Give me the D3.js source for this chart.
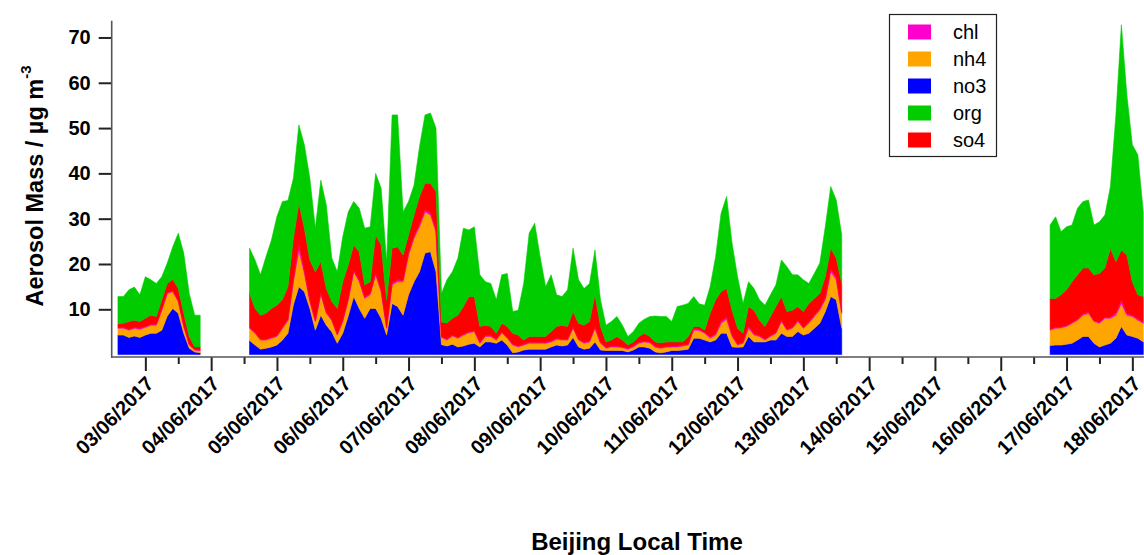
<!DOCTYPE html>
<html>
<head>
<meta charset="utf-8">
<script src="https://cdn.jsdelivr.net/npm/d3@7"></script>
<style>
  body { margin: 0; background: #ffffff; }
  svg { display: block; }
  text { font-family: Arial, "Liberation Sans", sans-serif; fill: #000; }
</style>
</head>
<body>
<svg id="chart" width="1144" height="555"></svg>
<script>
// Aerosol composition time series, 2-hourly samples starting 02/06/2017 12:00.
// null marks hours with no measurement.
const startTime = new Date(2017, 5, 2, 12, 0);
const stepHours = 2;

const no3 = [null,
  4.3, 4.3, 3.8, 4.1, 3.8, 4.3, 4.7, 4.7, 5.4, 8.5, 10.2, 9.1, 4.7, 1.4, 0.6, 0.4,
  null, null, null, null, null, null, null, null,
  3.1, 2.1, 1.2, 1.4, 1.7, 2.1, 3.2, 4.7, 11.0, 15.0,
  13.9, 10.2, 5.4, 8.7, 6.5, 5.0, 2.5, 4.7, 8.5, 12.8,
  10.2, 8.0, 10.2, 10.2, 8.0, 4.3, 11.3, 10.6, 8.7, 13.2,
  16.1, 18.3, 22.4, 22.7, 18.3, 2.2, 1.9, 2.3, 1.7, 1.9,
  2.3, 2.5, 1.7, 2.8, 2.8, 2.5, 3.2, 2.1, 0.4, 0.6,
  1.0, 1.2, 1.2, 1.2, 1.2, 1.7, 2.1, 1.9, 2.1, 3.8,
  1.7, 1.2, 1.4, 2.8, 1.0, 0.9, 0.9, 0.9, 0.9, 0.6,
  1.0, 1.7, 1.7, 1.4, 0.6, 0.4, 0.6, 0.9, 0.9, 1.0,
  1.2, 3.6, 3.6, 3.2, 2.8, 3.2, 4.7, 4.7, 1.7, 1.6,
  1.7, 4.0, 2.8, 2.8, 2.8, 3.2, 3.2, 4.7, 4.0, 4.0,
  5.1, 4.3, 4.7, 5.8, 6.9, 9.5, 12.8, 12.1, 5.8,
  null, null, null, null, null, null, null, null, null, null,
  null, null, null, null, null, null, null, null, null, null,
  null, null, null, null, null, null, null, null, null, null,
  null, null, null, null, null, null, null,
  2.0, 2.1, 2.1, 2.3, 2.5, 3.2, 4.0, 4.0, 2.5, 1.7, 2.1, 2.5, 3.6, 6.2, 4.3, 4.0, 3.6, 2.8
];

const nh4 = [null,
  1.5, 1.5, 1.6, 1.7, 1.8, 1.7, 1.8, 1.8, 4.4, 5.0, 3.7, 2.6, 1.5, 0.7, 0.4, 0.5,
  null, null, null, null, null, null, null, null,
  2.7, 2.6, 2.0, 1.8, 1.9, 1.9, 2.6, 2.8, 5.1, 7.9,
  4.0, 1.5, 1.9, 4.5, 2.6, 2.5, 1.8, 2.6, 3.5, 5.5,
  5.9, 4.4, 3.0, 7.4, 5.9, 1.5, 4.1, 5.5, 7.4, 8.8,
  9.6, 9.9, 9.1, 8.1, 8.8, 1.6, 1.3, 1.8, 1.9, 2.4,
  2.5, 2.6, 0.8, 1.2, 1.2, 0.7, 1.6, 1.5, 1.7, 1.1,
  1.1, 1.3, 1.3, 1.3, 1.3, 1.1, 1.3, 1.3, 1.1, 2.0,
  1.5, 1.3, 1.4, 3.0, 1.5, 0.5, 0.8, 0.8, 0.6, 0.6,
  0.7, 0.8, 1.1, 1.2, 1.0, 1.0, 1.0, 0.8, 0.8, 0.9,
  0.9, 1.8, 1.7, 1.5, 0.8, 1.1, 2.2, 3.1, 2.3, 0.5,
  0.8, 1.8, 1.5, 1.2, 0.4, 0.8, 1.5, 2.6, 1.4, 1.8,
  2.2, 1.5, 2.2, 2.6, 2.9, 2.6, 5.5, 4.4, 3.3,
  null, null, null, null, null, null, null, null, null, null,
  null, null, null, null, null, null, null, null, null, null,
  null, null, null, null, null, null, null, null, null, null,
  null, null, null, null, null, null, null,
  3.4, 3.7, 3.8, 3.9, 4.4, 4.4, 4.7, 5.1, 4.8, 5.2, 5.9, 5.5, 5.1, 5.1, 4.4, 4.4, 4.0, 4.1
];

const chl = [null,
  0.2, 0.2, 0.2, 0.2, 0.2, 0.2, 0.2, 0.2, 0.2, 0.2, 0.2, 0.2, 0.2, 0.2, 0.1, 0.1,
  null, null, null, null, null, null, null, null,
  0.2, 0.2, 0.2, 0.2, 0.2, 0.2, 0.2, 0.3, 0.5, 1.5,
  0.6, 0.3, 0.2, 0.5, 0.3, 0.2, 0.2, 0.3, 0.3, 0.4,
  0.3, 0.3, 0.3, 0.4, 0.3, 0.2, 0.4, 0.4, 0.3, 0.5,
  0.5, 0.5, 0.5, 0.5, 0.5, 0.2, 0.2, 0.2, 0.2, 0.2,
  0.2, 0.2, 0.2, 0.2, 0.2, 0.2, 0.2, 0.2, 0.2, 0.2,
  0.2, 0.2, 0.2, 0.2, 0.2, 0.2, 0.2, 0.2, 0.2, 0.3,
  0.2, 0.2, 0.2, 0.3, 0.2, 0.2, 0.2, 0.2, 0.2, 0.2,
  0.2, 0.2, 0.2, 0.2, 0.2, 0.2, 0.2, 0.2, 0.2, 0.2,
  0.2, 0.4, 0.3, 0.2, 0.3, 0.3, 0.5, 0.5, 0.3, 0.2,
  0.2, 0.5, 0.3, 0.2, 0.2, 0.2, 0.2, 0.3, 0.2, 0.2,
  0.3, 0.2, 0.3, 0.3, 0.3, 0.5, 0.6, 0.6, 0.3,
  null, null, null, null, null, null, null, null, null, null,
  null, null, null, null, null, null, null, null, null, null,
  null, null, null, null, null, null, null, null, null, null,
  null, null, null, null, null, null, null,
  0.2, 0.2, 0.2, 0.2, 0.2, 0.2, 0.3, 0.3, 0.2, 0.2, 0.3, 0.3, 0.5, 0.8, 0.4, 0.3, 0.3, 0.2
];

const so4 = [null,
  0.8, 0.9, 1.7, 1.6, 1.5, 1.8, 2.0, 1.7, 2.1, 2.0, 2.5, 2.7, 2.7, 1.7, 0.6, 0.7,
  null, null, null, null, null, null, null, null,
  7.5, 5.3, 5.3, 5.7, 6.4, 6.7, 6.1, 7.2, 9.1, 9.0,
  9.4, 8.9, 10.8, 6.8, 5.2, 4.0, 5.7, 8.5, 7.5, 5.5,
  6.3, 2.7, 2.6, 8.4, 10.0, 6.0, 7.7, 7.3, 5.6, 3.9,
  4.6, 6.2, 5.8, 6.5, 8.4, 3.2, 3.6, 3.7, 4.9, 6.1,
  7.8, 7.5, 3.5, 2.3, 2.0, 1.3, 1.9, 2.4, 2.4, 2.4,
  0.9, 1.3, 1.3, 1.3, 1.3, 2.1, 2.6, 3.1, 2.8, 3.4,
  3.5, 3.8, 4.3, 7.1, 3.5, 1.2, 1.3, 2.1, 1.5, 0.7,
  0.9, 1.3, 1.7, 1.2, 1.0, 1.0, 1.0, 0.9, 0.9, 0.7,
  1.7, 0.4, 0.6, 0.5, 5.2, 7.5, 6.5, 6.3, 5.5, 3.5,
  2.0, 4.3, 5.2, 3.4, 2.8, 4.2, 5.7, 5.2, 3.9, 3.8,
  3.0, 3.5, 4.1, 3.7, 3.4, 4.6, 4.6, 4.2, 6.3,
  null, null, null, null, null, null, null, null, null, null,
  null, null, null, null, null, null, null, null, null, null,
  null, null, null, null, null, null, null, null, null, null,
  null, null, null, null, null, null, null,
  6.8, 6.4, 7.1, 7.9, 9.0, 9.8, 10.1, 9.7, 10.1, 10.8, 10.8, 15.2, 11.3, 11.0, 12.9, 7.4, 5.3, 5.7
];

const org = [null,
  6.0, 5.9, 7.0, 7.3, 5.9, 9.2, 7.8, 7.3, 5.1, 4.5, 7.2, 12.2, 13.3, 9.5, 7.0, 7.0,
  null, null, null, null, null, null, null, null,
  10.0, 10.7, 8.9, 12.5, 15.1, 19.6, 21.7, 19.0, 13.2, 17.3,
  18.4, 18.0, 9.6, 18.0, 18.4, 9.6, 8.1, 9.9, 11.7, 9.6,
  9.6, 12.5, 12.1, 13.6, 12.5, 8.5, 29.4, 29.1, 9.5, 7.4,
  6.6, 11.0, 15.1, 15.5, 14.0, 6.3, 9.5, 10.3, 12.6, 17.3,
  14.7, 15.4, 11.4, 9.6, 9.5, 7.4, 10.7, 11.7, 4.8, 5.5,
  12.5, 22.8, 25.0, 17.6, 11.0, 12.5, 7.0, 6.3, 8.1, 14.0,
  9.6, 8.1, 8.4, 9.9, 5.9, 3.7, 4.1, 4.4, 3.3, 1.9,
  2.3, 2.9, 3.1, 4.4, 5.7, 5.8, 5.6, 4.5, 7.8, 8.1,
  7.3, 6.6, 5.0, 5.5, 5.9, 9.5, 17.3, 20.3, 14.8, 11.4,
  6.6, 5.5, 4.8, 4.5, 4.7, 4.8, 4.8, 8.1, 9.9, 7.8,
  7.0, 7.0, 4.4, 5.5, 6.7, 11.0, 13.6, 12.8, 10.7,
  null, null, null, null, null, null, null, null, null, null,
  null, null, null, null, null, null, null, null, null, null,
  null, null, null, null, null, null, null, null, null, null,
  null, null, null, null, null, null, null,
  16.2, 18.0, 13.9, 13.9, 12.5, 14.7, 14.7, 15.0, 11.0, 11.4, 11.7, 13.6, 32.4, 49.7, 35.3, 30.2, 30.9, 18.7
];

// Stacking order, bottom to top
const stackKeys = ["no3", "nh4", "chl", "so4", "org"];
const legendKeys = ["chl", "nh4", "no3", "org", "so4"];
const colors = { chl: "#ff00cc", nh4: "#ffa500", no3: "#0000ff", org: "#00cc00", so4: "#ff0000" };
const yTickValues = [10, 20, 30, 40, 50, 60, 70];

const series = { no3, nh4, chl, so4, org };
const rows = no3.map((_, i) => {
  const row = { time: d3.timeHour.offset(startTime, i * stepHours) };
  stackKeys.forEach(k => { row[k] = series[k][i]; });
  return row;
});

const svg = d3.select("#chart");
svg.append("rect").attr("width", 1144).attr("height", 555).attr("fill", "#fff");

const x = d3.scaleTime()
  .domain([new Date(2017, 5, 2, 11, 50), new Date(2017, 5, 18, 4, 15)])
  .range([112, 1144]);
const y = d3.scaleLinear().domain([0, 73.7]).range([354.6, 20.7]);

const layers = d3.stack().keys(stackKeys).value((d, k) => d[k] == null ? 0 : d[k])(rows);

const area = d3.area()
  .defined(d => d.data.no3 != null)
  .x(d => x(d.data.time))
  .y0(d => y(d[0]))
  .y1(d => y(d[1]));

const plot = svg.append("g");
plot.selectAll("path.layer")
  .data(layers)
  .join("path")
  .attr("class", "layer")
  .attr("fill", d => colors[d.key])
  .attr("stroke", d => colors[d.key])
  .attr("stroke-width", 0.6)
  .attr("d", area);

// Y axis
const yAxis = svg.append("g")
  .attr("transform", "translate(111.7,0)")
  .call(d3.axisLeft(y).tickValues(yTickValues).tickSize(13).tickSizeOuter(0).tickPadding(8));
yAxis.select(".domain").remove();
yAxis.selectAll(".tick line").attr("stroke", "#222").attr("stroke-width", 2);
yAxis.selectAll(".tick text")
  .attr("font-size", 20).attr("font-weight", "bold").attr("fill", "#000");

// X axis: daily labelled ticks plus unlabelled noon ticks
const xAxisY = 357;
const xMajor = svg.append("g")
  .attr("transform", `translate(0,${xAxisY})`)
  .call(d3.axisBottom(x).ticks(d3.timeDay.every(1)).tickFormat(d3.timeFormat("%d/%m/%Y"))
    .tickSize(14).tickSizeOuter(0));
xMajor.select(".domain").remove();
xMajor.selectAll(".tick line").attr("stroke", "#222").attr("stroke-width", 2);
xMajor.selectAll(".tick text")
  .attr("x", 0).attr("y", 0).attr("dy", 0)
  .attr("text-anchor", "end")
  .attr("transform", "translate(9,28) rotate(-45)")
  .attr("font-size", 20).attr("font-weight", "bold").attr("fill", "#000");

const noonTicks = d3.timeHour.every(12).range(x.domain()[0], x.domain()[1])
  .filter(d => d.getHours() === 12 && x(d) > 115);
const xMinor = svg.append("g")
  .attr("transform", `translate(0,${xAxisY})`)
  .call(d3.axisBottom(x).tickValues(noonTicks).tickFormat("").tickSize(7).tickSizeOuter(0));
xMinor.select(".domain").remove();
xMinor.selectAll(".tick line").attr("stroke", "#222").attr("stroke-width", 2);

// Axis lines
svg.append("line").attr("x1", 111.7).attr("x2", 111.7).attr("y1", 20.7).attr("y2", xAxisY + 0.8)
  .attr("stroke", "#555").attr("stroke-width", 1.6);
svg.append("line").attr("x1", 111).attr("x2", 1144).attr("y1", xAxisY).attr("y2", xAxisY)
  .attr("stroke", "#555").attr("stroke-width", 1.6);

// Axis titles
const yTitle = svg.append("text")
  .attr("transform", "translate(43,186) rotate(-90)")
  .attr("text-anchor", "middle")
  .attr("font-size", 23.5).attr("font-weight", "bold");
yTitle.append("tspan").text("Aerosol Mass / µg m");
yTitle.append("tspan").attr("dy", -12).attr("font-size", 15).text("-3");

svg.append("text")
  .attr("x", 637).attr("y", 550)
  .attr("text-anchor", "middle")
  .attr("font-size", 24).attr("font-weight", "bold")
  .text("Beijing Local Time");

// Legend
const legend = svg.append("g");
legend.append("rect")
  .attr("x", 889.5).attr("y", 14.5).attr("width", 107).attr("height", 142)
  .attr("fill", "#fff").attr("stroke", "#222").attr("stroke-width", 1.2);
legendKeys.forEach((k, i) => {
  const cy = 32 + i * 27;
  legend.append("rect").attr("x", 908).attr("y", cy - 7.5).attr("width", 23).attr("height", 15)
    .attr("fill", colors[k]);
  legend.append("text").attr("x", 953).attr("y", cy + 7).attr("font-size", 20).text(k);
});
</script>
</body>
</html>
